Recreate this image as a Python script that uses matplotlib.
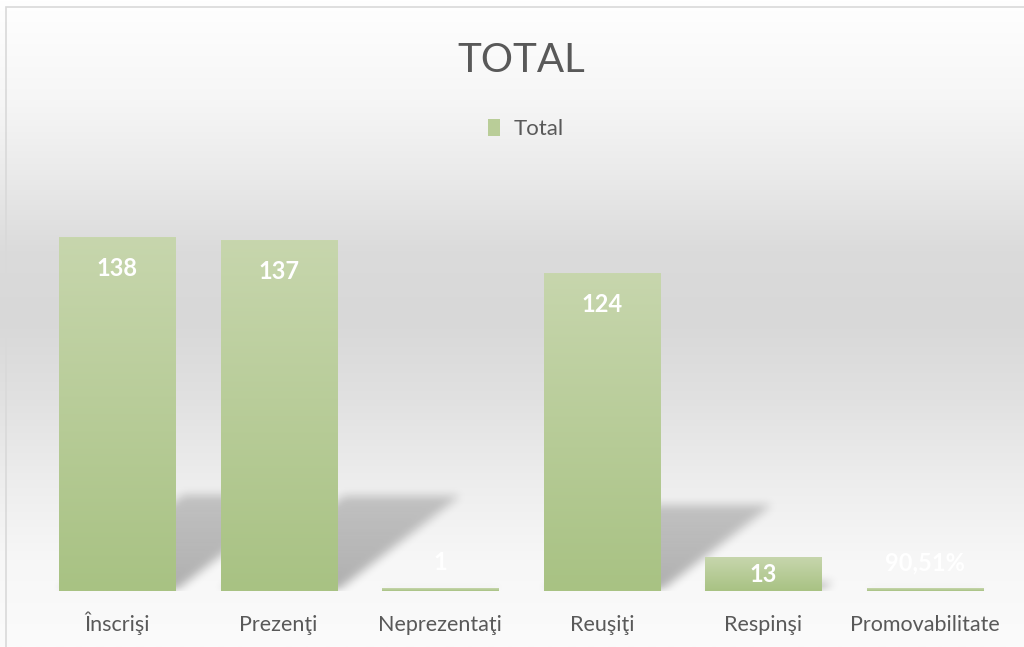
import numpy as np
import matplotlib
matplotlib.use("Agg")
import matplotlib.pyplot as plt
from matplotlib.patches import Rectangle, Patch

# ---- data ----
categories = ["Înscrişi", "Prezenţi", "Neprezentaţi", "Reuşiţi", "Respinşi", "Promovabilitate"]
values = [138, 137, 1, 124, 13, 0.9051]
value_labels = ["138", "137", "1", "124", "13", "90,51%"]
series_name = "Total"
title = "TOTAL"

FONT = ["Lato", "DejaVu Sans"]
TXT = "#595959"
TOP_C = np.array([0xc7, 0xd6, 0xad]) / 255
BOT_C = np.array([0xa8, 0xc2, 0x83]) / 255

W, H = 1024, 647
fig = plt.figure(figsize=(W / 100, H / 100), dpi=100)

# background gradient (whole figure)
bg = fig.add_axes([0, 0, 1, 1], zorder=-10)
stops_y = np.array([0, 10, 100, 170, 250, 320, 400, 480, 560, 647]) / H
stops_v = np.array([255, 254, 246, 235, 219, 216, 225, 237, 247, 251]) / 255
yy = np.linspace(0, 1, 400)
gv = np.interp(yy, stops_y, stops_v)
grad = np.repeat(gv[:, None], 2, axis=1)
bg.imshow(np.dstack([grad, grad, grad]), extent=(0, 1, 1, 0), aspect="auto",
          interpolation="bilinear")
bg.set_xlim(0, 1)
bg.set_ylim(1, 0)
bg.axis("off")
fig.add_artist(Rectangle((6 / W, -0.1), 1.2, 1 - 7 / H + 0.1, transform=fig.transFigure,
                         fill=False, edgecolor="#d9d9d9", linewidth=1.2, zorder=-5))

# main axes
left_px, slot_px = 36.2, 161.6
base_px = 591
ppu = 2.558  # pixels per unit
ymax = 160
ax = fig.add_axes([left_px / W, (H - base_px) / H, 6 * slot_px / W, ymax * ppu / H])
ax.patch.set_alpha(0)
n = len(categories)
x = np.arange(n)
bw = 0.718

# perspective shadows computed from bar geometry
gw, gh = int(6 * slot_px), int(ymax * ppu)
shadow = np.zeros((gh, gw))
cols = np.arange(gw)
for i, v in enumerate(values):
    hpx = v * ppu
    sh = 0.27 * hpx
    xl = (x[i] + 0.5 - bw / 2) * slot_px
    xr = (x[i] + 0.5 + bw / 2) * slot_px
    for r in range(int(sh) + 1):
        a = 0.30 * (1 - 0.35 * r / max(sh, 1))
        m = (cols >= xl + 1.3 * r) & (cols <= xr + 1.3 * r)
        shadow[r, m] = np.maximum(shadow[r, m], a)
k = np.ones(9) / 9
for _ in range(3):
    shadow = np.apply_along_axis(lambda c: np.convolve(c, k, mode="same"), 0, shadow)
    shadow = np.apply_along_axis(lambda c: np.convolve(c, k, mode="same"), 1, shadow)
rgba = np.zeros((gh, gw, 4))
rgba[..., 3] = shadow
ax.imshow(rgba, origin="lower", extent=(-0.5, 5.5, 0, ymax), aspect="auto",
          interpolation="bilinear", zorder=1)

# bars with vertical gradient
bars = ax.bar(x, values, width=bw, color="none", edgecolor="none", zorder=2)
g = np.linspace(0, 1, 256)[:, None]
gimg = BOT_C[None, None, :] * (1 - g[..., None]) + TOP_C[None, None, :] * g[..., None]
gimg = np.repeat(gimg, 2, axis=1)
for b in bars:
    x0, w, hh = b.get_x(), b.get_width(), b.get_height()
    ax.imshow(gimg, origin="lower", extent=(x0, x0 + w, 0, hh), aspect="auto",
              interpolation="bilinear", zorder=3)

# value labels
for i, (v, s) in enumerate(zip(values, value_labels)):
    if v * ppu >= 25:
        ly = max(v - 31 / ppu, v / 2)
    else:
        ly = v + 26 / ppu
    ax.text(x[i], ly, s, ha="center", va="center", color="white", fontsize=17,
            fontweight="bold", family=FONT, zorder=5)

ax.set_xlim(-0.5, 5.5)
ax.set_ylim(0, ymax)
ax.set_xticks(x)
ax.set_xticklabels(categories, family=FONT, fontsize=15.5, color=TXT, va="baseline")
ax.tick_params(axis="x", length=0, pad=29)
ax.set_yticks([])
for sp in ax.spines.values():
    sp.set_visible(False)

fig.text(521 / W, 1 - 60 / H, title, ha="center", va="center", fontsize=29,
         family=FONT, fontweight="normal", color=TXT)
fig.legend(handles=[Patch(facecolor="#b9cd98", edgecolor="none", label=series_name)],
           loc="center", bbox_to_anchor=(526 / W, 1 - 129 / H), frameon=False,
           prop={"family": FONT, "size": 16}, labelcolor=TXT,
           handlelength=0.55, handleheight=0.8, handletextpad=0.6)

fig.savefig("out.png", dpi=100)
